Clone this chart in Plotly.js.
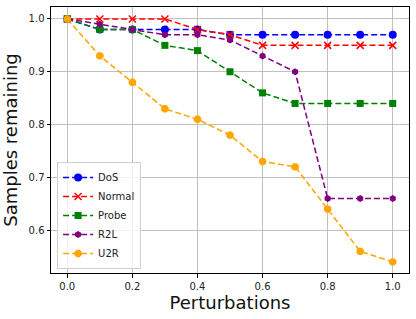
<!DOCTYPE html>
<html><head><meta charset="utf-8">
<script src="https://cdn.plot.ly/plotly-3.0.1.min.js"></script>
<style>html,body{margin:0;padding:0;background:#fff;}</style>
</head><body>
<div id="chart" style="width:416px;height:319px;"></div>
<script>
const perturbations = [0.0, 0.1, 0.2, 0.3, 0.4, 0.5, 0.6, 0.7, 0.8, 0.9, 1.0];
const dos    = [1.00, 0.98, 0.98, 0.98, 0.98, 0.97, 0.97, 0.97, 0.97, 0.97, 0.97];
const normal = [1.00, 1.00, 1.00, 1.00, 0.98, 0.97, 0.95, 0.95, 0.95, 0.95, 0.95];
const probe  = [1.00, 0.98, 0.98, 0.95, 0.94, 0.90, 0.86, 0.84, 0.84, 0.84, 0.84];
const r2l    = [1.00, 0.99, 0.98, 0.97, 0.97, 0.96, 0.93, 0.90, 0.66, 0.66, 0.66];
const u2r    = [1.00, 0.93, 0.88, 0.83, 0.81, 0.78, 0.73, 0.72, 0.64, 0.56, 0.54];
const yTicks = [0.6, 0.7, 0.8, 0.9, 1.0];
const xTicks = [0.0, 0.2, 0.4, 0.6, 0.8, 1.0];

function tr(name, y, color, symbol, size) {
  return {x: perturbations, y: y, name: name, type: 'scatter', mode: 'lines+markers',
    line: {color: color, dash: '6px,3px', width: 1.5},
    marker: {color: color, symbol: symbol, size: size,
      line: symbol === 'x-thin' ? {color: color, width: 1.5} : {width: 0}}};
}
const data = [
  tr('DoS', dos, 'blue', 'circle', 8),
  tr('Normal', normal, 'red', 'x-thin', 7),
  tr('Probe', probe, 'green', 'square', 7),
  tr('R2L', r2l, 'purple', 'hexagon', 7),
  tr('U2R', u2r, 'orange', 'octagon', 8)
];
const axisCommon = {showline: true, mirror: true, linecolor: 'black', linewidth: 1,
  showgrid: true, gridcolor: '#b0b0b0', gridwidth: 0.8, zeroline: false,
  ticks: 'outside', ticklen: 3.5, tickcolor: 'black',
  tickfont: {family: 'DejaVu Sans', size: 10, color: '#222'}};
const layout = {
  width: 416, height: 319,
  margin: {l: 51, r: 7, t: 7, b: 46},
  paper_bgcolor: 'white', plot_bgcolor: 'white',
  showlegend: true,
  legend: {x: 0.017, y: 0.015, xanchor: 'left', yanchor: 'bottom',
    bgcolor: 'rgba(255,255,255,0.8)', bordercolor: '#d0d0d0', borderwidth: 1,
    font: {family: 'DejaVu Sans', size: 10, color: '#222'}, itemwidth: 30, tracegroupgap: 0},
  xaxis: Object.assign({}, axisCommon, {range: [-0.05, 1.05], tickvals: xTicks, tickformat: '.1f',
    title: {text: 'Perturbations', font: {family: 'DejaVu Sans', size: 18, color: '#111'}, standoff: 5}}),
  yaxis: Object.assign({}, axisCommon, {range: [0.519, 1.0226], tickvals: yTicks, tickformat: '.1f',
    title: {text: 'Samples remaining', font: {family: 'DejaVu Sans', size: 18, color: '#111'}, standoff: 8}})
};
Plotly.newPlot('chart', data, layout, {staticPlot: true, displayModeBar: false});
</script>
</body></html>
